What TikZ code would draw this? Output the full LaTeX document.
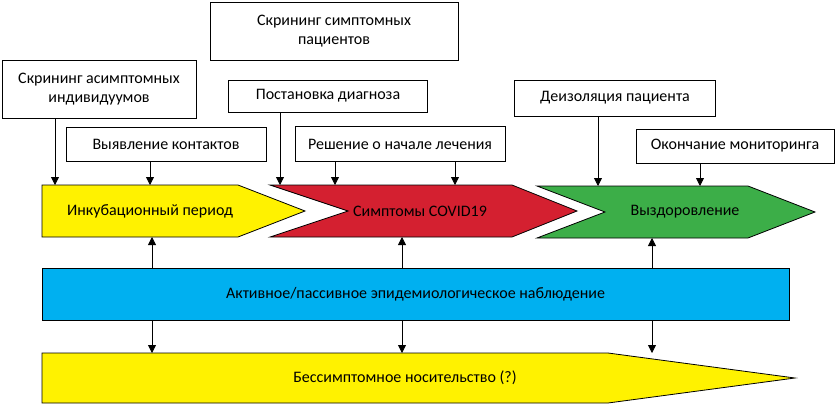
\documentclass[tikz,border=0pt]{standalone}
\usepackage{fontspec}
\setmainfont{Carlito}
\usetikzlibrary{arrows.meta}
\definecolor{stred}{HTML}{D42030}
\definecolor{stgreen}{HTML}{3CAE48}
\definecolor{stblue}{HTML}{00B0F0}
\definecolor{styellow}{HTML}{FFF200}
\tikzset{
  txt/.style={font=\fontsize{16}{19}\selectfont},
  lbl/.style={txt, draw, thick, fill=white, align=center, inner sep=2pt},
  stage/.style={draw, thick},
  arr/.style={thick, -{Triangle[length=8pt,width=8pt]}}
}
\begin{document}
\begin{tikzpicture}[x=1pt,y=-1pt]
\useasboundingbox (0,0) rectangle (838,405);
% boxes on top
\node[lbl, minimum width=248pt, minimum height=58pt] (sympt) at (334,31) {Скрининг симптомных\\пациентов};
\node[lbl, minimum width=194pt, minimum height=58pt] (asympt) at (99,89) {Скрининг асимптомных\\индивидуумов};
\node[lbl, minimum width=199pt, minimum height=32pt] (diag) at (328,96) {Постановка диагноза};
\node[lbl, minimum width=201pt, minimum height=36pt] (deiso) at (615,98) {Деизоляция пациента};
\node[lbl, minimum width=200pt, minimum height=34pt] (contact) at (166,144) {Выявление контактов};
\node[lbl, minimum width=210pt, minimum height=35pt] (treat) at (400,144) {Решение о начале лечения};
\node[lbl, minimum width=198pt, minimum height=34pt] (endmon) at (735,146) {Окончание мониторинга};
% stages
\draw[stage, fill=styellow] (42,185) -- (238,185) -- (305,211) -- (238,237) -- (42,237) -- cycle;
\node[txt] (incub) at (150,211) {Инкубационный период};
\draw[stage, fill=stred] (270,185) -- (512,185) -- (577,211) -- (512,237) -- (270,237) -- (348,211) -- cycle;
\node[txt] (covid) at (420,211) {Симптомы COVID19};
\draw[stage, fill=stgreen] (537,186) -- (748,186) -- (815,212) -- (748,238) -- (537,238) -- (605,212) -- cycle;
\node[txt] (recov) at (685,212) {Выздоровление};
\node[stage, txt, fill=stblue, minimum width=747pt, minimum height=52pt] (watch) at (415.5,294) {Активное/пассивное эпидемиологическое наблюдение};
\draw[stage, fill=styellow] (42,353) -- (608,353) -- (795,378) -- (608,403) -- (42,403) -- cycle;
\node[txt] (carrier) at (405,378) {Бессимптомное носительство (?)};
% arrows down
\coordinate (y1) at (55,185); \coordinate (y2) at (150,185);
\coordinate (r1) at (280,185); \coordinate (r2) at (335,185); \coordinate (r3) at (455,185);
\coordinate (g1) at (598,186); \coordinate (g2) at (700,186);
\draw[arr] (asympt.south -| y1) -- (y1);
\draw[arr] (contact.south -| y2) -- (y2);
\draw[arr] (diag.south -| r1) -- (r1);
\draw[arr] (treat.south -| r2) -- (r2);
\draw[arr] (treat.south -| r3) -- (r3);
\draw[arr] (deiso.south -| g1) -- (g1);
\draw[arr] (endmon.south -| g2) -- (g2);
% arrows from monitoring
\foreach \xx/\yy in {152/237, 402/237, 652/238} {
  \draw[arr] (watch.north -| \xx,0) -- (\xx,\yy);
  \draw[arr] (watch.south -| \xx,0) -- (\xx,353);
}
\end{tikzpicture}
\end{document}
